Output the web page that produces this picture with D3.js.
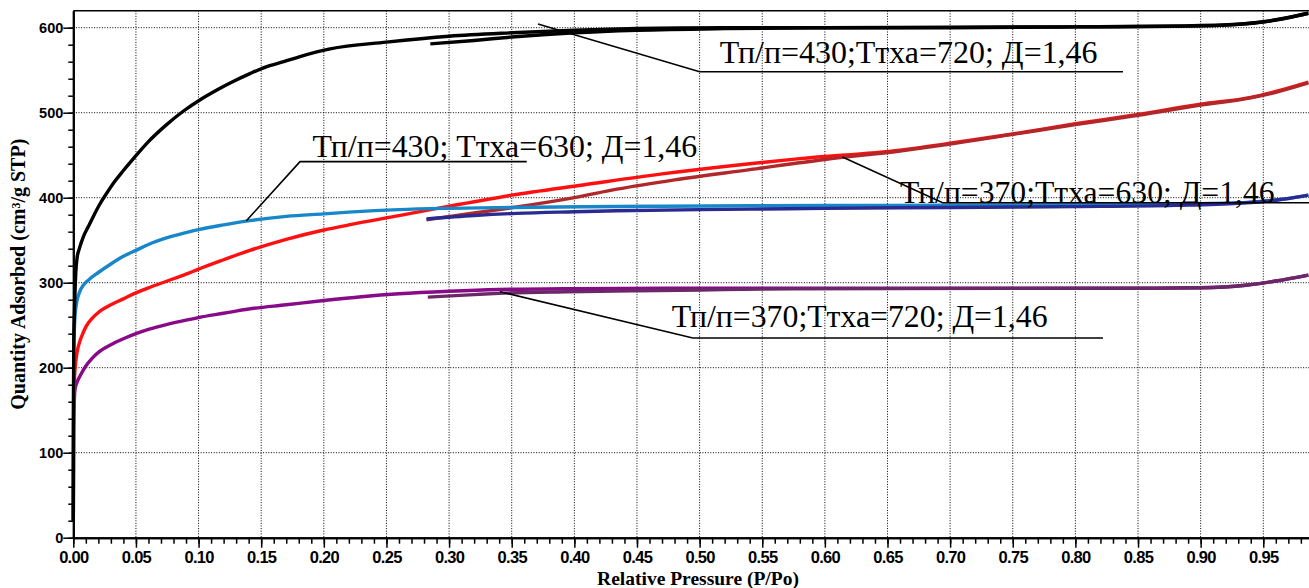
<!DOCTYPE html>
<html>
<head>
<meta charset="utf-8">
<script src="https://cdn.jsdelivr.net/npm/d3@7"></script>
<style>
  body { margin: 0; background: #fff; }
  .tick-label { font-family: "Liberation Sans", Arial, sans-serif; font-weight: bold; }
  .axis-title { font-family: "Liberation Serif", "Times New Roman", serif; font-weight: bold; }
  .note { font-family: "Liberation Serif", "Times New Roman", serif; }
</style>
</head>
<body>
<div id="chart"></div>
<script>
// Isotherms: relative pressure P/Po, quantity adsorbed cm3/g STP
// Тп/п=430; Ттха=720
const ads430_720 = [[0,20],[0.0001,150],[0.0004,230],[0.001,270],[0.002,312],[0.003,329],[0.005,341],[0.008,354],
  [0.012,366],[0.016,378],[0.021,392],[0.027,406],[0.033,419],[0.04,432],[0.048,446],[0.06,466],[0.0745,486],
  [0.088,502],[0.101,515],[0.115,527],[0.128,537],[0.141,546],[0.154,554],[0.168,560],[0.181,566],[0.205,575],
  [0.25,583],[0.30,590],[0.35,594],[0.40,597],[0.45,599],[0.52,600],[0.6,600],[0.7,600],[0.8,601],[0.88,601.5],
  [0.92,603],[0.95,607],[0.97,612],[0.986,617]];
const des430_720 = [[0.285,581],[0.32,585],[0.35,589],[0.40,594],[0.45,597],[0.52,599],[0.6,600],[0.7,600.5],
  [0.8,601],[0.88,602],[0.93,604],[0.96,609],[0.986,617]];

// Тп/п=430; Ттха=630
const ads430_630 = [[0,20],[0.0003,200],[0.0008,243],[0.0015,263],[0.003,279],[0.005,289],[0.008,297],[0.012,303],
  [0.02,312],[0.03,322],[0.04,331],[0.05,338],[0.06,345],[0.075,353],[0.09,359],[0.1,362.5],[0.12,368],[0.141,373],
  [0.17,378],[0.2,381],[0.22,383],[0.26,386],[0.30,387.5],[0.35,388.5],[0.407,389.4],[0.47,390],[0.54,390.5],
  [0.65,391],[0.75,391.5],[0.85,392],[0.9,393],[0.93,394],[0.95,396],[0.97,399],[0.986,403]];
const des430_630 = [[0.282,375],[0.32,379],[0.354,381.6],[0.40,383.5],[0.434,384.7],[0.5,386],[0.54,386.5],
  [0.6,387.5],[0.7,388.5],[0.8,389.5],[0.88,391],[0.93,393.5],[0.96,397],[0.986,403]];

// Тп/п=370; Ттха=630
const ads370_630 = [[0,20],[0.0003,150],[0.0008,182],[0.0015,200],[0.003,218],[0.005,230],[0.007,238],[0.01,248],
  [0.015,258],[0.02,265],[0.03,274],[0.04,281],[0.05,288],[0.06,294],[0.075,302],[0.09,310],[0.1,316],[0.12,327],
  [0.141,338],[0.17,351],[0.2,362],[0.22,368],[0.26,379],[0.30,390],[0.35,403],[0.407,415],[0.47,428],[0.54,440],
  [0.58,446],[0.66,456],[0.7,464],[0.75,475],[0.8,487],[0.85,498],[0.9,510],[0.94,518],[0.96,525],[0.986,536]];
const des370_630 = [[0.282,374],[0.32,382],[0.354,389],[0.40,400],[0.434,410],[0.48,421],[0.54,433],[0.6,445],
  [0.66,455],[0.7,463],[0.75,474.5],[0.8,486],[0.85,497],[0.9,509],[0.94,517.5],[0.96,524],[0.986,535]];

// Тп/п=370; Ттха=720
const ads370_720 = [[0,20],[0.0003,130],[0.0008,160],[0.0014,175],[0.003,183],[0.006,192],[0.01,202],[0.015,211],
  [0.02,218],[0.03,227],[0.04,234],[0.05,240],[0.06,245],[0.075,251],[0.09,256],[0.1,259],[0.12,264],[0.14,269],
  [0.17,274],[0.2,279],[0.23,283.5],[0.26,287],[0.30,290],[0.34,292],[0.4,293],[0.474,293.4],[0.55,293.5],
  [0.65,293.5],[0.75,293.5],[0.85,293.5],[0.9,294],[0.936,297],[0.96,302],[0.986,309]];
const des370_720 = [[0.283,283],[0.32,286],[0.34,287.5],[0.394,289.4],[0.45,290.5],[0.5,291.4],[0.55,292.5],
  [0.65,293],[0.75,293.3],[0.85,293.5],[0.9,294],[0.936,297],[0.96,302],[0.986,309]];

const noteLabels = [
  "Тп/п=430;Ттха=720; Д=1,46",
  "Тп/п=430; Ттха=630; Д=1,46",
  "Тп/п=370;Ттха=630; Д=1,46",
  "Тп/п=370;Ттха=720; Д=1,46"
];

const W = 1309, H = 588;
const x = d3.scaleLinear().domain([0, 0.9865]).range([73.3, 1309]);
const y = d3.scaleLinear().domain([0, 620]).range([537.7, 10.7]);

const svg = d3.select("#chart").append("svg")
  .attr("width", W).attr("height", H);

// grid
const gridX = d3.range(1, 20).map(i => i * 0.05);
const gridY = d3.range(1, 7).map(i => i * 100);
svg.append("g").selectAll("line").data(gridX).enter().append("line")
  .attr("x1", d => x(d)).attr("x2", d => x(d))
  .attr("y1", y(620)).attr("y2", y(0))
  .attr("stroke", "#000").attr("stroke-width", 1).attr("stroke-dasharray", "1,1.6");
svg.append("g").selectAll("line").data(gridY).enter().append("line")
  .attr("x1", x(0)).attr("x2", W)
  .attr("y1", d => y(d)).attr("y2", d => y(d))
  .attr("stroke", "#000").attr("stroke-width", 1).attr("stroke-dasharray", "1,1.6");

// top frame
svg.append("line")
  .attr("x1", x(0)).attr("x2", W).attr("y1", y(620)).attr("y2", y(620))
  .attr("stroke", "#000").attr("stroke-width", 1.5);

// curves
const line = d3.line().x(d => x(d[0])).y(d => y(d[1])).curve(d3.curveMonotoneX);
const series = [
  { data: ads370_720, color: "#880a88" },
  { data: des370_720, color: "#6a2868" },
  { data: ads370_630, color: "#ff1010" },
  { data: des370_630, color: "#b0282a" },
  { data: ads430_630, color: "#1787c9" },
  { data: des430_630, color: "#2a2a92" },
  { data: des430_720, color: "#000000" },
  { data: ads430_720, color: "#000000" }
];
svg.append("g").selectAll("path").data(series).enter().append("path")
  .attr("d", d => line(d.data))
  .attr("fill", "none")
  .attr("stroke", d => d.color)
  .attr("stroke-width", 3.4)
  .attr("stroke-linejoin", "round");

// axes
const xMajor = d3.axisBottom(x).tickValues(d3.range(0, 20).map(i => i * 0.05))
  .tickSize(10).tickSizeOuter(0).tickFormat(d3.format(".2f"));
const xMinor = d3.axisBottom(x).tickValues(d3.range(0, 99).map(i => i * 0.01))
  .tickSize(6).tickSizeOuter(0).tickFormat("");
const yMajor = d3.axisLeft(y).tickValues(d3.range(0, 7).map(i => i * 100))
  .tickSize(10).tickSizeOuter(0).tickFormat(d3.format("d"));
const yMinor = d3.axisLeft(y).tickValues(d3.range(0, 31).map(i => i * 20))
  .tickSize(5).tickSizeOuter(0).tickFormat("");

function styleAxis(g) {
  g.select(".domain").attr("stroke", "#000").attr("stroke-width", 2);
  g.selectAll(".tick line").attr("stroke", "#000").attr("stroke-width", 1.5);
}

svg.append("g").attr("transform", `translate(0,${y(0)})`).call(xMinor).call(styleAxis);
const gx = svg.append("g").attr("transform", `translate(0,${y(0)})`).call(xMajor).call(styleAxis);
gx.selectAll(".tick text")
  .attr("class", "tick-label")
  .attr("y", 14)
  .attr("dy", "0.71em")
  .style("font-size", "16.5px")
  .style("letter-spacing", "-0.7px")
  .attr("fill", "#000");

svg.append("g").attr("transform", `translate(${x(0)},0)`).call(yMinor).call(styleAxis);
const gy = svg.append("g").attr("transform", `translate(${x(0)},0)`).call(yMajor).call(styleAxis);
gy.selectAll(".tick text")
  .attr("class", "tick-label")
  .attr("x", -10)
  .style("font-size", "14.5px")
  .attr("fill", "#000");

// axis titles
svg.append("text")
  .attr("class", "axis-title")
  .attr("x", 698).attr("y", 585)
  .attr("text-anchor", "middle")
  .style("font-size", "19.5px")
  .text("Relative Pressure (P/Po)");

svg.append("text")
  .attr("class", "axis-title")
  .attr("transform", `translate(25,${y(310)}) rotate(-90)`)
  .attr("text-anchor", "middle")
  .style("font-size", "20px")
  .text("Quantity Adsorbed (cm³/g STP)");

// annotations with leaders (data coordinates)
const notes = [
  { label: noteLabels[0], anchor: [0.371, 604.4], elbow: [0.500, 548.2], end: 0.838, tx: 0.516, ty: 557.9, tw: 0.3017 },
  { label: noteLabels[1], anchor: [0.138, 372.6], elbow: [0.181, 442.4], end: 0.362, tx: 0.191, ty: 447.9, tw: 0.307 },
  { label: noteLabels[2], anchor: [0.614, 447.9], elbow: [0.694, 394.1], end: 0.9865, tx: 0.660, ty: 393.8, tw: 0.299 },
  { label: noteLabels[3], anchor: [0.3405, 289.4], elbow: [0.4946, 234.9], end: 0.822, tx: 0.4778, ty: 247.9, tw: 0.300 }
];
const ng = svg.append("g");
notes.forEach(n => {
  ng.append("polyline")
    .attr("points", [
      [x(n.anchor[0]), y(n.anchor[1])],
      [x(n.elbow[0]), y(n.elbow[1])],
      [x(n.end), y(n.elbow[1])]
    ].map(p => p.join(",")).join(" "))
    .attr("fill", "none")
    .attr("stroke", "#000")
    .attr("stroke-width", 1.6);
  ng.append("text")
    .attr("class", "note")
    .attr("x", x(n.tx)).attr("y", y(n.ty))
    .attr("textLength", x(n.tx + n.tw) - x(n.tx))
    .attr("lengthAdjust", "spacingAndGlyphs")
    .style("font-size", "32px")
    .attr("fill", "#000")
    .text(n.label);
});
</script>
</body>
</html>
